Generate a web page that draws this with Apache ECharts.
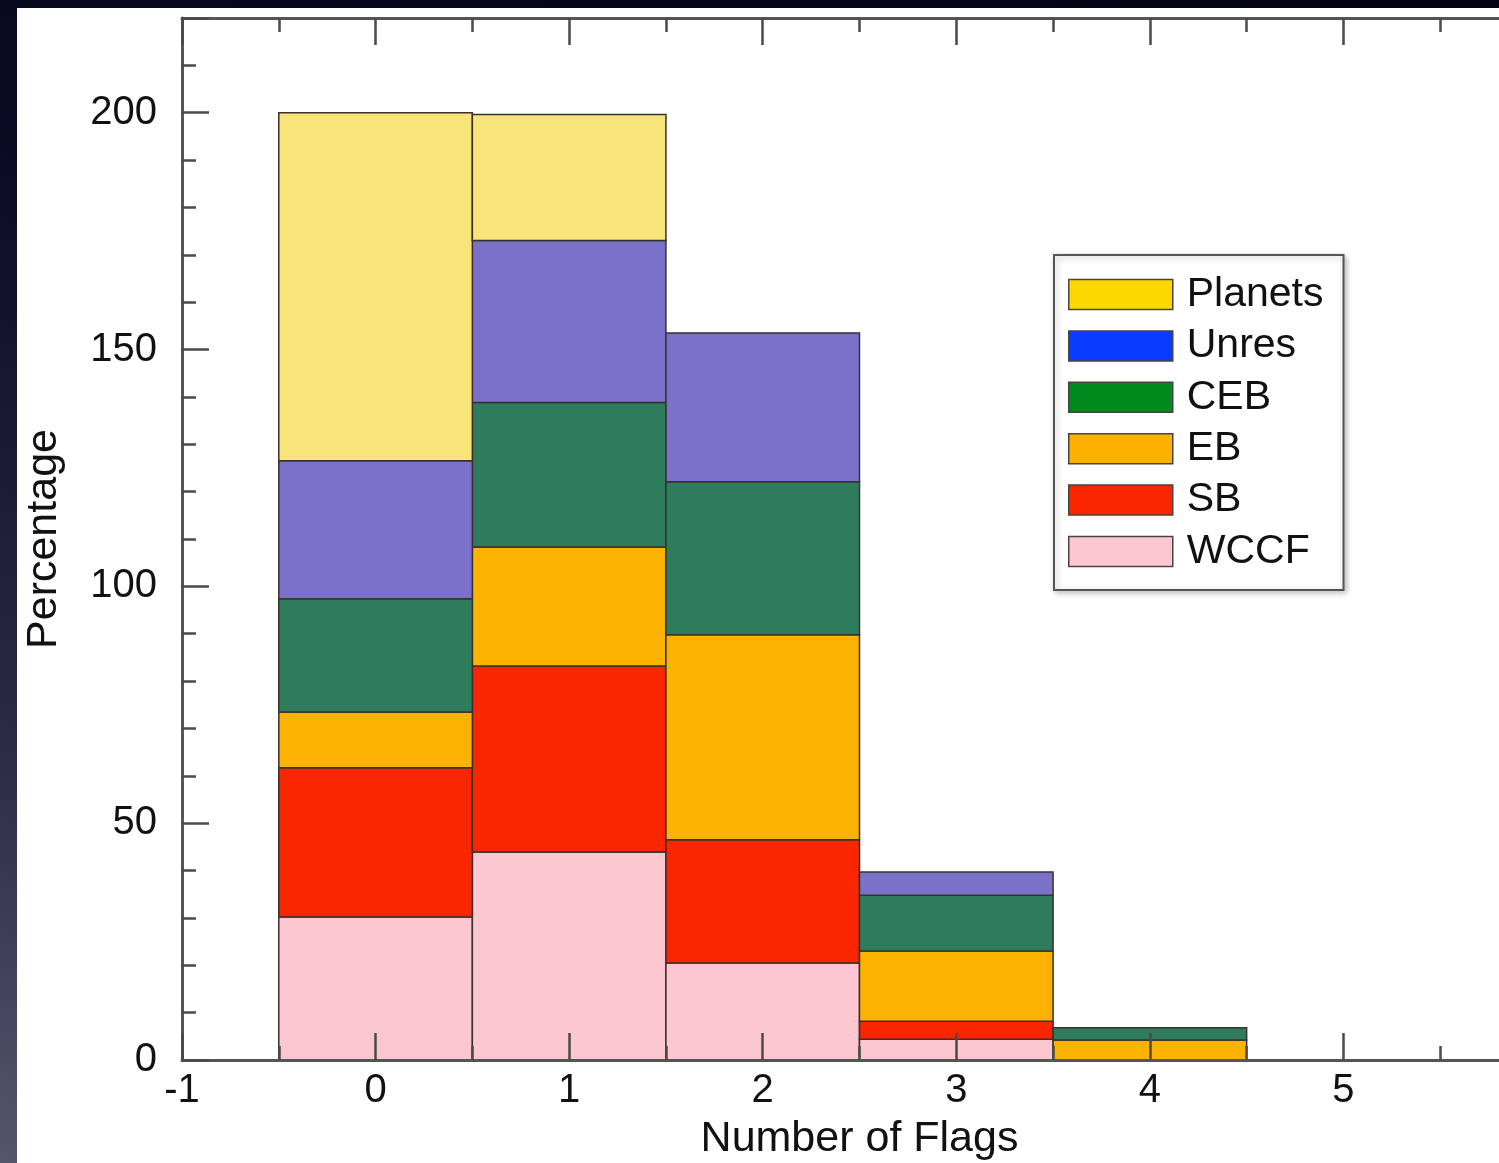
<!DOCTYPE html>
<html>
<head>
<meta charset="utf-8">
<script src="https://cdn.jsdelivr.net/npm/echarts@6/dist/echarts.min.js"></script>
<style>
html,body{margin:0;padding:0;width:1499px;height:1163px;overflow:hidden;}
body{background:linear-gradient(200deg,#020214 0%,#0a0a22 40%,#2a2a44 75%,#55556c 100%);position:relative;}
#paper{position:absolute;left:17px;top:8px;right:0;bottom:0;background:#fff;}
#chart{position:absolute;left:0;top:0;width:1499px;height:1163px;}
</style>
</head>
<body>
<div id="paper"></div>
<div id="chart"></div>
<script>
// Data
const flags = [0, 1, 2, 3, 4];
const seriesNames = ['WCCF', 'SB', 'EB', 'CEB', 'Unres', 'Planets'];
const wccf    = [30.2, 43.9, 20.5, 4.4, 0];
const sb      = [31.5, 39.3, 26.0, 3.8, 0];
const eb      = [11.8, 25.1, 43.3, 14.8, 4.2];
const ceb     = [23.9, 30.5, 32.3, 11.8, 2.6];
const unres   = [29.1, 34.2, 31.4, 4.9, 0];
const planets = [73.5, 26.6, 0, 0, 0];
const xTicks = [-1, 0, 1, 2, 3, 4, 5, 6];
const yTicks = [0, 50, 100, 150, 200];
const legendOrder = ['Planets', 'Unres', 'CEB', 'EB', 'SB', 'WCCF'];

const values = {WCCF: wccf, SB: sb, EB: eb, CEB: ceb, Unres: unres, Planets: planets};
const barColors = {WCCF:'#fdc7d1', SB:'#fa2600', EB:'#fcb200', CEB:'#2e7c5c', Unres:'#7a72c8', Planets:'#f8e57a'};
const legendColors = {WCCF:'#fdc7d1', SB:'#fa2600', EB:'#fdb000', CEB:'#008a1e', Unres:'#0a3cff', Planets:'#fcd800'};

const FONT = '"Liberation Sans", Arial, Helvetica, sans-serif';
const tickColor = '#4a4a4a';

// stacked histogram: each segment is [flag, base, top]
const running = flags.map(() => 0);
const series = seriesNames.map(name => {
  const data = [];
  flags.forEach((f, i) => {
    const v = values[name][i];
    const base = running[i];
    running[i] = base + v;
    if (v > 0) data.push([f, base, base + v]);
  });
  const color = barColors[name];
  return {
    name: name,
    type: 'custom',
    coordinateSystem: 'cartesian2d',
    encode: {x: 0, y: [1, 2]},
    data: data,
    itemStyle: {color: color},
    renderItem: function (params, api) {
      const x = api.value(0), y0 = api.value(1), y1 = api.value(2);
      const p0 = api.coord([x - 0.5, y1]);
      const p1 = api.coord([x + 0.5, y0]);
      return {
        type: 'rect',
        shape: {x: p0[0], y: p0[1], width: p1[0] - p0[0], height: p1[1] - p0[1]},
        style: {fill: color, stroke: '#3a3030', lineWidth: 1.5}
      };
    },
    emphasis: {disabled: true},
    z: 2
  };
});

function axisCommon() {
  return {
    axisLine: {show: true, onZero: false, lineStyle: {color: '#555', width: 3}},
    axisTick: {show: true, inside: true, length: 27, lineStyle: {color: tickColor, width: 2.5}},
    minorTick: {show: true, splitNumber: 2, length: 14, lineStyle: {color: tickColor, width: 2.5}},
    splitLine: {show: false},
    z: 10
  };
}

const chart = echarts.init(document.getElementById('chart'), null, {renderer:'canvas'});
const option = {
  backgroundColor: 'transparent',
  animation: false,
  grid: {left: 182, top: 18, right: -38, bottom: 103, containLabel: false, outerBoundsMode: 'none'},
  legend: {
    orient: 'vertical',
    left: 1054, top: 255,
    padding: [19, 20, 18, 14],
    itemWidth: 104, itemHeight: 30, itemGap: 10.4,
    backgroundColor: '#fff',
    borderColor: '#555', borderWidth: 2,
    shadowColor: 'rgba(0,0,0,0.25)', shadowBlur: 6, shadowOffsetX: 2, shadowOffsetY: 2,
    textStyle: {fontFamily: FONT, fontSize: 41, color: '#111', padding: [0,0,0,9]},
    data: legendOrder.map(n => ({name: n, icon: 'rect', itemStyle: {color: legendColors[n], borderColor: '#444', borderWidth: 1.5}})),
    selectedMode: false
  },
  xAxis: [
    Object.assign(axisCommon(), {
      type: 'value', min: xTicks[0], max: xTicks[xTicks.length-1], interval: 1, position: 'bottom',
      name: 'Number of Flags', nameLocation: 'middle', nameGap: 58,
      nameTextStyle: {fontFamily: FONT, fontSize: 43, color: '#111'},
      axisLabel: {fontFamily: FONT, fontSize: 40, color: '#111', margin: 11}
    }),
    Object.assign(axisCommon(), {
      type: 'value', min: xTicks[0], max: xTicks[xTicks.length-1], interval: 1, position: 'top',
      axisLabel: {show: false}
    })
  ],
  yAxis: [
    Object.assign(axisCommon(), {
      type: 'value', min: 0, max: 220, interval: 50, position: 'left',
      name: 'Percentage', nameLocation: 'middle', nameGap: 116, nameRotate: 90,
      nameTextStyle: {fontFamily: FONT, fontSize: 43, color: '#111'},
      minorTick: {show: true, splitNumber: 5, length: 14, lineStyle: {color: tickColor, width: 2.5}},
      axisLabel: {fontFamily: FONT, fontSize: 40, color: '#111', margin: 25,
        formatter: v => (yTicks.indexOf(v) >= 0 ? String(v) : '')}
    }),
    Object.assign(axisCommon(), {
      type: 'value', min: 0, max: 220, interval: 50, position: 'right',
      minorTick: {show: true, splitNumber: 5, length: 14, lineStyle: {color: tickColor, width: 2.5}},
      axisLabel: {show: false}
    })
  ],
  series: series
};
chart.setOption(option);
</script>
</body>
</html>
